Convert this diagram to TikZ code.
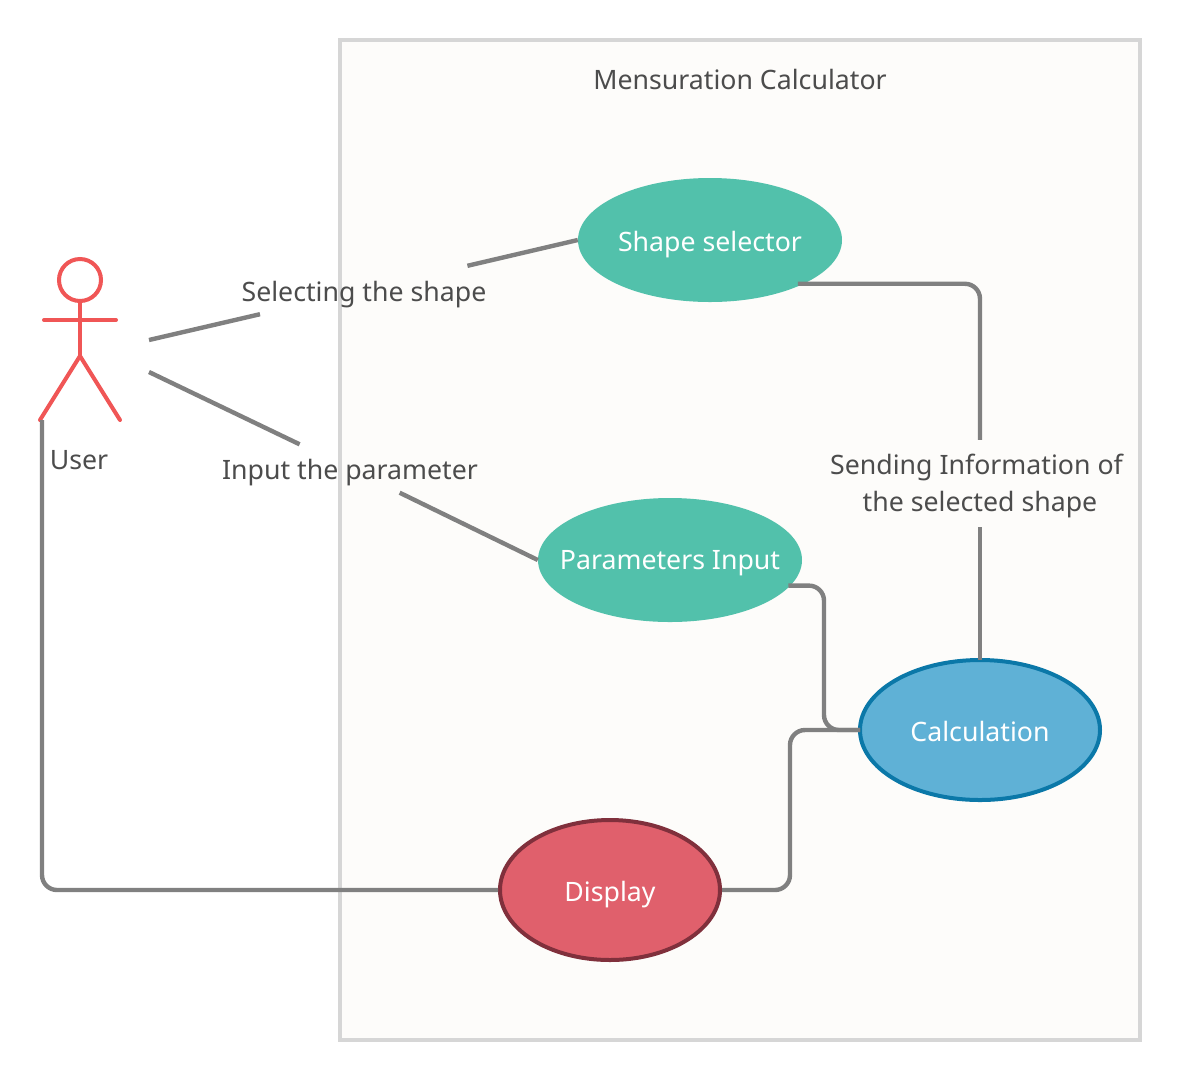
\documentclass[tikz,border=0pt]{standalone}
\usepackage{fontspec}
\setmainfont{Noto Sans}
\usetikzlibrary{shapes.geometric}
\definecolor{edgecol}{HTML}{808080}
\definecolor{textcol}{HTML}{4C4C4C}
\definecolor{framecol}{HTML}{D6D6D6}
\definecolor{paper}{HTML}{FDFCFA}
\definecolor{actorcol}{HTML}{F05656}
\definecolor{tealcol}{HTML}{52C1AB}
\definecolor{bluecol}{HTML}{5FB1D6}
\definecolor{blueline}{HTML}{0B78A8}
\definecolor{redcol}{HTML}{E0606C}
\definecolor{redline}{HTML}{80303C}

\begin{document}
\begin{tikzpicture}[x=1pt, y=-1pt,
    every node/.style={font=\fontsize{26.7}{37}\selectfont, text=textcol, text height=22pt, text depth=0pt},
    usecase/.style={ellipse, inner sep=-40pt, text=white},
    teal/.style={usecase, fill=tealcol, minimum width=264pt, minimum height=124pt},
    edgelabel/.style={inner sep=0pt, minimum height=48pt, align=center},
    link/.style={draw=edgecol, line width=4.4pt, rounded corners=15pt},
    actor/.style={draw=actorcol, line width=4pt, line cap=round}]
    \useasboundingbox (0,0) rectangle (1180,1080);
    \fill[white] (0,0) rectangle (1180,1080);
    \draw[draw=framecol, fill=paper, line width=4pt] (340,40) rectangle (1140,1040);
    \node (title) at (740,78.5) {Mensuration Calculator};

    \node[teal] (sel) at (710,240) {Shape selector};
    \node[teal, text height=18pt] (inp) at (670,560) {Parameters Input};
    \node[usecase, draw=blueline, fill=bluecol, line width=4pt,
          minimum width=240pt, minimum height=140pt] (calc) at (980,730) {Calculation};
    \node[usecase, draw=redline, fill=redcol, line width=4pt,
          minimum width=220pt, minimum height=140pt] (disp) at (610,890) {Display};

    \draw[actor] (80,280) circle (21);
    \draw[actor] (44,320) -- (116,320);
    \draw[actor] (80,301) -- (80,356);
    \draw[actor] (40,420) -- (80,356) -- (120,420);
    \node (user) at (79,458.5) {User};

    \coordinate (armA) at (149,340);
    \coordinate (armB) at (149,372);
    \coordinate (foot) at (42,420);
    \node[edgelabel] (lblsel) at (364,290) {Selecting the shape};
    \node[edgelabel] (lblinp) at (350,468.5) {Input the parameter};
    \node[edgelabel, minimum height=87pt, text height=55pt] (lblsend) at (980,483.5)
        {Sending Information of\hspace*{7pt}\\the selected shape};

    \draw[link] (armA) -- (lblsel);
    \draw[link] (lblsel) -- (sel.west);
    \draw[link] (armB) -- (lblinp);
    \draw[link] (lblinp) -- (inp.west);
    \draw[link] ([xshift=-6pt]sel.-25.5) -| (lblsend.north);
    \draw[link] (lblsend.south) -- ([yshift=-2pt]calc.north);
    \draw[link] ([xshift=-2pt]inp.-12) -| (824,730) -- ([xshift=2pt]calc.west);
    \draw[link] (disp.east) -| (790,730) -- ([xshift=2pt]calc.west);
    \draw[link] (foot) |- (disp.west);
\end{tikzpicture}
\end{document}
